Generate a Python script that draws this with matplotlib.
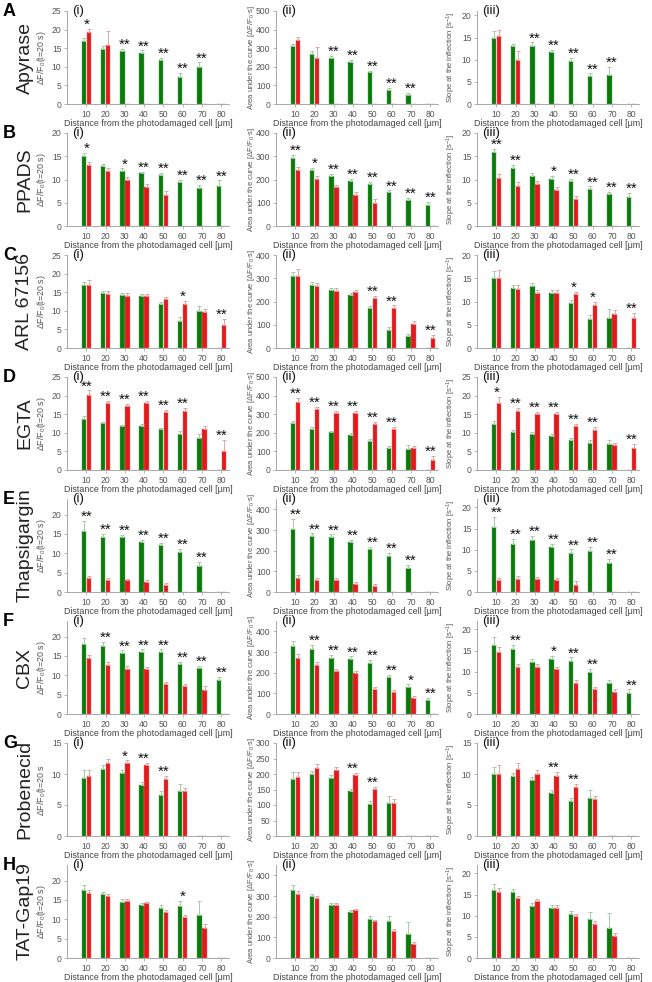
import matplotlib
matplotlib.use('Agg')
import matplotlib.pyplot as plt
import numpy as np

plt.rcParams['font.family'] = ['Liberation Sans', 'DejaVu Sans']
plt.rcParams['mathtext.fontset'] = 'custom'
plt.rcParams['mathtext.rm'] = 'Liberation Sans'
plt.rcParams['mathtext.it'] = 'Liberation Sans:italic'
plt.rcParams['mathtext.default'] = 'regular'

# ---- data ----
distances = [10, 20, 30, 40, 50, 60, 70, 80]
letters = ["A", "B", "C", "D", "E", "F", "G", "H"]
treatments = ["Apyrase", "PPADS", "ARL 67156", "EGTA", "Thapsigargin", "CBX", "Probenecid", "TAT-Gap19"]

# (i) amplitude dF/F0 at t=20 s ; green = control, red = treatment
amp_green = [
    [16.9, 14.9, 14.2, 13.8, 11.9, 7.3, 10.0, 0],
    [15.1, 12.8, 11.8, 11.3, 10.9, 9.5, 8.2, 8.6],
    [16.9, 14.8, 14.2, 13.9, 11.9, 7.3, 10.0, 0],
    [13.6, 12.5, 11.8, 11.9, 10.9, 9.8, 8.6, 0],
    [15.7, 14.3, 14.1, 12.8, 12.1, 10.2, 6.8, 0],
    [18.0, 17.6, 15.7, 16.0, 16.1, 12.9, 12.0, 8.8],
    [9.4, 10.8, 10.2, 8.2, 6.6, 7.2, 0, 0],
    [17.6, 16.4, 14.5, 13.6, 12.8, 13.4, 11.1, 0],
]
amp_red = [
    [19.4, 15.9, 0, 0, 0, 0, 0, 0],
    [13.2, 11.8, 10.0, 8.4, 6.7, 0, 0, 0],
    [16.9, 14.6, 14.1, 14.1, 13.2, 11.9, 9.8, 6.3],
    [20.2, 18.0, 17.1, 17.9, 15.7, 15.9, 11.0, 5.2],
    [3.6, 3.1, 3.0, 2.7, 1.9, 0, 0, 0],
    [14.4, 12.7, 11.7, 11.7, 7.7, 7.2, 6.3, 0],
    [9.6, 11.7, 11.7, 11.4, 9.2, 7.2, 0, 0],
    [16.8, 16.0, 14.8, 14.1, 11.9, 10.7, 7.8, 0],
]
amp_green_err = [
    [0.8, 0.6, 0.6, 0.6, 0.6, 1.0, 1.2, 0],
    [0.7, 0.5, 0.6, 0.4, 0.5, 0.4, 0.6, 1.2],
    [0.8, 0.5, 0.5, 0.5, 0.6, 1.1, 1.3, 0],
    [0.8, 0.5, 0.4, 0.5, 0.5, 0.8, 1.2, 0],
    [2.6, 0.7, 0.7, 0.7, 0.6, 1.0, 1.0, 0],
    [1.5, 1.1, 0.7, 0.7, 0.6, 0.5, 0.5, 0.8],
    [1.2, 0.6, 0.5, 0.5, 0.7, 1.2, 0, 0],
    [1.3, 0.7, 0.6, 0.6, 0.9, 1.4, 3.5, 0],
]
amp_red_err = [
    [0.8, 3.8, 0, 0, 0, 0, 0, 0],
    [0.6, 0.6, 0.5, 0.6, 0.8, 0, 0, 0],
    [1.5, 0.7, 0.6, 0.5, 0.5, 0.8, 0.8, 1.5],
    [1.2, 0.6, 0.6, 0.6, 0.4, 0.7, 0.7, 2.8],
    [0.5, 0.4, 0.4, 0.4, 0.4, 0, 0, 0],
    [0.9, 0.6, 0.6, 0.5, 0.5, 0.5, 0.8, 0],
    [1.0, 0.7, 0.5, 0.4, 0.5, 0.6, 0, 0],
    [0.7, 0.4, 0.4, 0.4, 0.4, 0.4, 1.0, 0],
]
amp_stars = [
    ["*", "", "**", "**", "**", "**", "**", ""],
    ["*", "", "*", "**", "**", "**", "**", "**"],
    ["", "", "", "", "", "*", "", "**"],
    ["**", "**", "**", "**", "**", "**", "", "**"],
    ["**", "**", "**", "**", "**", "**", "**", ""],
    ["", "**", "**", "**", "**", "**", "**", "**"],
    ["", "", "*", "**", "**", "", "", ""],
    ["", "", "", "", "", "*", "", ""],
]

# (ii) area under the curve
auc_green = [
    [310, 270, 249, 226, 170, 74, 49, 0],
    [292, 240, 214, 194, 179, 145, 113, 90],
    [311, 271, 250, 228, 171, 77, 50, 0],
    [250, 222, 202, 187, 158, 117, 112, 0],
    [304, 269, 267, 240, 208, 173, 115, 0],
    [330, 316, 270, 267, 249, 181, 133, 67],
    [184, 200, 186, 144, 102, 108, 0, 0],
    [330, 300, 258, 225, 190, 179, 115, 0],
]
auc_red = [
    [345, 245, 0, 0, 0, 0, 0, 0],
    [242, 204, 166, 135, 99, 0, 0, 0],
    [311, 267, 247, 240, 214, 171, 105, 43],
    [365, 328, 307, 307, 247, 220, 118, 52],
    [70, 59, 59, 40, 27, 0, 0, 0],
    [272, 238, 208, 198, 121, 108, 78, 0],
    [190, 218, 212, 198, 151, 108, 0, 0],
    [312, 290, 258, 232, 179, 130, 68, 0],
]
auc_green_err = [
    [15, 15, 10, 10, 10, 12, 10, 0],
    [15, 10, 10, 10, 10, 8, 8, 15],
    [15, 12, 10, 10, 8, 12, 10, 0],
    [15, 10, 10, 10, 10, 12, 20, 0],
    [48, 15, 12, 12, 12, 15, 15, 0],
    [25, 20, 15, 12, 12, 8, 10, 10],
    [22, 10, 10, 8, 10, 20, 0, 0],
    [22, 12, 8, 8, 12, 25, 60, 0],
]
auc_red_err = [
    [15, 60, 0, 0, 0, 0, 0, 0],
    [10, 10, 12, 10, 15, 0, 0, 0],
    [30, 12, 10, 8, 10, 12, 12, 15],
    [22, 12, 12, 10, 10, 12, 10, 25],
    [12, 8, 8, 8, 10, 0, 0, 0],
    [20, 12, 10, 12, 8, 10, 10, 0],
    [18, 15, 10, 6, 8, 10, 0, 0],
    [12, 8, 8, 6, 6, 8, 10, 0],
]
auc_stars = [
    ["", "", "**", "**", "**", "**", "**", ""],
    ["**", "*", "**", "**", "**", "**", "**", "**"],
    ["", "", "", "", "**", "**", "", "**"],
    ["**", "**", "**", "**", "**", "**", "", "**"],
    ["**", "**", "**", "**", "**", "**", "**", ""],
    ["", "**", "**", "**", "**", "**", "*", "**"],
    ["", "", "", "**", "**", "", "", ""],
    ["", "", "", "", "", "", "", ""],
]

# (iii) slope at the inflection
slope_green = [
    [15.0, 13.0, 13.2, 11.7, 9.8, 6.3, 6.5, 0],
    [15.9, 12.5, 10.7, 10.2, 9.6, 8.0, 6.8, 6.2],
    [15.1, 13.0, 13.3, 11.8, 9.7, 6.3, 6.5, 0],
    [12.4, 10.2, 9.6, 9.1, 8.1, 7.3, 7.0, 0],
    [15.3, 11.3, 12.3, 10.7, 9.2, 9.7, 6.9, 0],
    [16.3, 15.3, 12.4, 13.0, 12.6, 10.0, 7.4, 4.9],
    [10.0, 9.6, 9.0, 7.0, 5.6, 6.2, 0, 0],
    [16.2, 15.5, 12.2, 11.8, 10.4, 9.2, 7.1, 0],
]
slope_red = [
    [15.3, 10.0, 0, 0, 0, 0, 0, 0],
    [10.3, 8.7, 9.0, 7.7, 5.7, 0, 0, 0],
    [15.1, 12.6, 11.9, 11.9, 11.6, 9.3, 7.3, 6.5],
    [17.9, 15.9, 15.0, 15.0, 11.7, 10.7, 6.7, 5.9],
    [2.8, 3.1, 3.0, 2.8, 1.7, 0, 0, 0],
    [14.6, 11.1, 11.1, 10.6, 7.3, 6.0, 5.2, 0],
    [10.0, 10.8, 10.0, 9.7, 7.9, 5.9, 0, 0],
    [15.7, 14.2, 13.4, 11.9, 9.9, 8.1, 5.2, 0],
]
slope_green_err = [
    [1.5, 0.6, 0.7, 0.6, 0.6, 0.6, 1.8, 0],
    [0.7, 0.6, 0.6, 0.5, 0.6, 0.5, 0.6, 1.0],
    [1.4, 0.6, 0.7, 0.6, 0.7, 0.7, 1.8, 0],
    [0.8, 0.6, 0.5, 0.5, 0.6, 0.7, 1.0, 0],
    [2.5, 1.2, 0.9, 0.7, 0.9, 0.9, 0.9, 0],
    [1.8, 1.0, 0.6, 0.8, 0.8, 0.6, 0.6, 0.9],
    [1.1, 0.6, 0.5, 0.5, 0.6, 1.3, 0, 0],
    [1.4, 0.9, 0.8, 0.7, 0.8, 1.8, 3.6, 0],
]
slope_red_err = [
    [1.4, 2.0, 0, 0, 0, 0, 0, 0],
    [0.8, 0.7, 0.7, 0.7, 0.8, 0, 0, 0],
    [1.6, 0.9, 0.6, 0.6, 0.5, 0.7, 0.8, 1.0],
    [1.8, 0.8, 0.6, 0.7, 0.6, 0.8, 0.6, 1.1],
    [0.6, 0.6, 0.6, 0.5, 0.9, 0, 0, 0],
    [1.2, 0.8, 0.7, 0.6, 0.7, 0.5, 0.8, 0],
    [1.4, 0.9, 0.6, 0.6, 0.5, 0.5, 0, 0],
    [0.8, 0.5, 0.6, 0.6, 0.5, 0.6, 0.7, 0],
]
slope_stars = [
    ["", "", "**", "**", "**", "**", "**", ""],
    ["**", "**", "", "*", "**", "**", "**", "**"],
    ["", "", "", "", "*", "*", "", "**"],
    ["*", "**", "**", "**", "**", "**", "", "**"],
    ["**", "**", "**", "**", "**", "**", "**", ""],
    ["", "**", "", "*", "**", "**", "", "**"],
    ["", "", "", "**", "**", "", "", ""],
    ["", "", "", "", "", "", "", ""],
]

# axis ranges per row: (ylim top, last tick, tick step)
amp_axis = [(25, 25, 5), (20, 20, 5), (25, 25, 5), (25, 25, 5), (24, 20, 5), (24, 20, 5), (15, 15, 5), (24, 20, 5)]
auc_axis = [(500, 500, 100), (400, 400, 100), (400, 400, 100), (500, 500, 100), (450, 400, 100), (450, 400, 100), (300, 300, 50), (450, 400, 100)]
slope_axis = [(21, 20, 5), (20, 20, 5), (20, 20, 5), (25, 25, 5), (22, 20, 5), (22, 20, 5), (15, 15, 5), (22, 20, 5)]

# ---- style ----
GREEN = "#0b7a0b"
RED = "#e31a1c"
GREEN_ERR = "#a9c9a9"
RED_ERR = "#d8a8a8"
GRAY = "#555555"

W, H = 652, 982
col_left = [67, 276, 477]
ax_w = 162
ax_h = 93
row_bottom0 = 104
row_pitch = 122

xlabel = "Distance from the photodamaged cell [μm]"
amp_label = r"ΔF/F$_0$(t=20 s)"
amp_label_g = r"ΔF/F$_0$(t=20 s"
auc_label = r"Area under the curve [ΔF/F$_0$·s]"
slope_label = r"Slope at the inflection [s$^{-1}$]"


def draw_panel(ax, green, red, gerr, rerr, stars, axis_spec):
    x = np.arange(1, len(distances) + 1)
    g = np.array(green, float)
    r = np.array(red, float)
    ge = np.array(gerr, float)
    re = np.array(rerr, float)
    ax.bar(x - 0.13, g, width=0.23, color=GREEN, edgecolor="#5aa85a", linewidth=0.3, zorder=2)
    ax.bar(x + 0.13, r, width=0.23, color=RED, edgecolor="#f07070", linewidth=0.3, zorder=2)
    for xs, vals, errs, ec in [(x - 0.13, g, ge, GREEN_ERR), (x + 0.13, r, re, RED_ERR)]:
        m = vals > 0
        ax.errorbar(xs[m], vals[m], yerr=[np.zeros(m.sum()), errs[m]], fmt="none",
                    ecolor=ec, elinewidth=0.7, capsize=1.3, capthick=0.7, zorder=3)
    tops = np.maximum(g + ge, r + re)
    for xi, top, s in zip(x, tops, stars):
        if s:
            ax.annotate(s, (xi, top), xytext=(0, 0), textcoords="offset points",
                        ha="center", va="baseline", fontsize=11, color="#111111")
    ytop, tmax, step = axis_spec
    ax.set_ylim(0, ytop)
    ax.set_yticks(np.arange(0, tmax + step / 2, step))
    ax.set_xlim(0, 8.4)
    ax.set_xticks(x)
    ax.set_xticklabels([str(d) for d in distances])
    for sp in ["top", "right"]:
        ax.spines[sp].set_visible(False)
    for sp in ["left", "bottom"]:
        ax.spines[sp].set_color("#9a9a9a")
        ax.spines[sp].set_linewidth(0.6)
    ax.tick_params(axis="both", labelsize=6.2, colors="#9a9a9a", labelcolor=GRAY,
                   length=2, width=0.5, pad=2)
    ax.set_xlabel(xlabel, fontsize=6.4, color="#444444", labelpad=0.5)


fig = plt.figure(figsize=(W / 100, H / 100), dpi=100)

for i in range(8):
    bottom_px = row_bottom0 + row_pitch * i
    y0 = 1 - bottom_px / H
    panels = [
        (amp_green[i], amp_red[i], amp_green_err[i], amp_red_err[i], amp_stars[i], amp_axis[i],
         amp_label_g if i == 6 else amp_label, "(i)", 6.4),
        (auc_green[i], auc_red[i], auc_green_err[i], auc_red_err[i], auc_stars[i], auc_axis[i],
         auc_label, "(ii)", 5.5),
        (slope_green[i], slope_red[i], slope_green_err[i], slope_red_err[i], slope_stars[i], slope_axis[i],
         slope_label, "(iii)", 5.5),
    ]
    for j, (g, r, ge, re, st, spec, ylab, tag, yfs) in enumerate(panels):
        ax = fig.add_axes([col_left[j] / W, y0, ax_w / W, ax_h / H])
        draw_panel(ax, g, r, ge, re, st, spec)
        ax.set_ylabel(ylab, fontsize=yfs, color=GRAY)
        ax.yaxis.set_label_coords(-0.115, 0.5)
        ax.text(0.03, 1.0, tag, transform=ax.transAxes, fontsize=9.5, ha="left", va="center",
                color="#111111")

    # row letter and treatment name
    fig.text(3 / W, 1 - (3 + row_pitch * i) / H, letters[i], fontsize=13, fontweight="bold",
             ha="left", va="top")
    fig.text(25 / W, 1 - (bottom_px - ax_h / 2) / H, treatments[i], fontsize=14, rotation=90,
             ha="center", va="center", color="#222222")

fig.savefig("out.png", dpi=100)
